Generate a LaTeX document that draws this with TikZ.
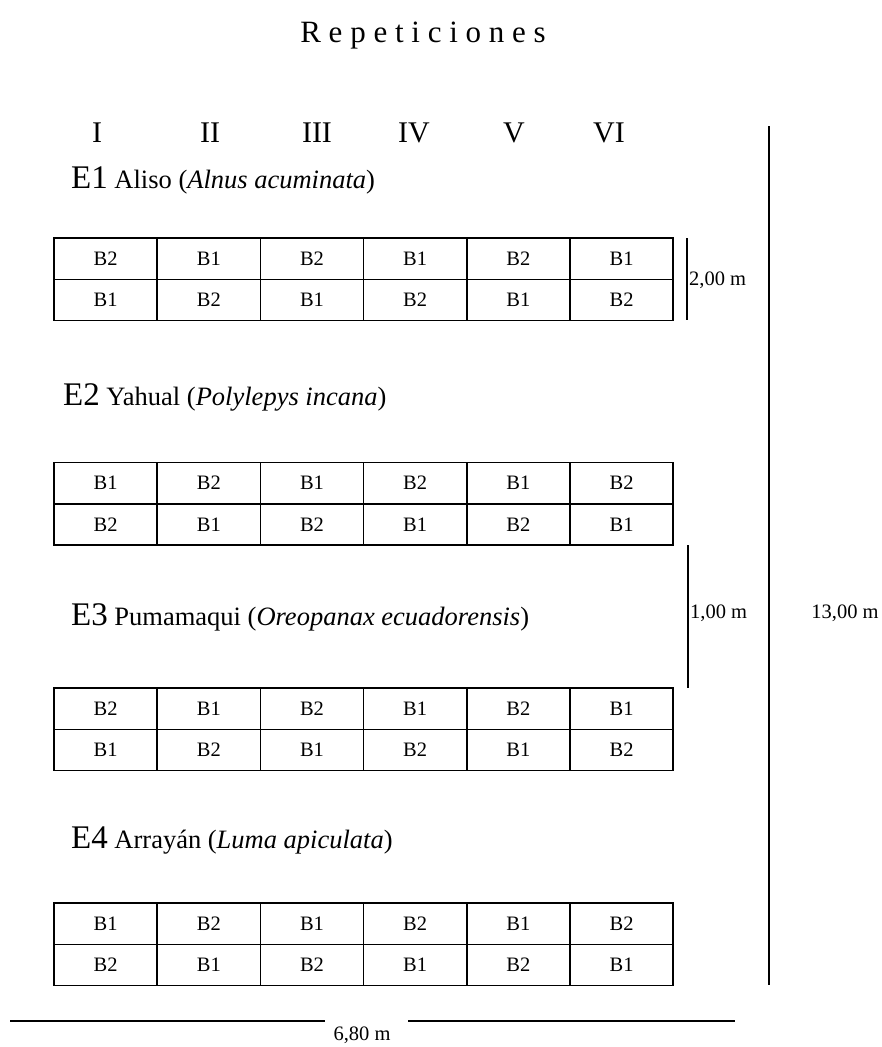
\documentclass[tikz,border=0pt]{standalone}
\usepackage{fontspec}
\setmainfont{Liberation Serif}
\begin{document}
\begin{tikzpicture}[x=1pt,y=-1pt,
  cell/.style={draw,line width=1.6pt,minimum width=103.2pt,minimum height=41.3pt,inner sep=0pt,font=\fontsize{20.5}{24}\selectfont},
  dimline/.style={line width=1.8pt},
  lbl/.style={inner sep=0pt,font=\fontsize{20.5}{24}\selectfont},
  head/.style={inner sep=0pt,font=\fontsize{30}{34}\selectfont},
  species/.style={inner sep=0pt,anchor=west,font=\fontsize{26.5}{30}\selectfont}]
\useasboundingbox (0,0) rectangle (882,1047);
\node[head,font=\fontsize{31}{35}\selectfont] (title) at (423,36) {R e p e t i c i o n e s};
\node[head] (r1) at (97,133) {I};
\node[head] (r2) at (210,133) {II};
\node[head] (r3) at (317,133) {III};
\node[head] (r4) at (414,133) {IV};
\node[head] (r5) at (514,133) {V};
\node[head] (r6) at (609,133) {VI};
\node[species] (e1) at (71,180) {{\fontsize{33}{36}\selectfont E1} Aliso (\textit{Alnus acuminata})};
\node[species] (e2) at (63,397) {{\fontsize{33}{36}\selectfont E2} Yahual (\textit{Polylepys incana})};
\node[species] (e3) at (71,617) {{\fontsize{33}{36}\selectfont E3} Pumamaqui (\textit{Oreopanax ecuadorensis})};
\node[species] (e4) at (71,840) {{\fontsize{33}{36}\selectfont E4} Arrayán (\textit{Luma apiculata})};
% grids
\foreach \g/\top/\pat in {1/238/0,2/462.5/1,3/688/0,4/903/1}{
  \foreach \c in {0,...,5}{
    \pgfmathtruncatemacro{\a}{mod(\c+\pat,2)==0 ? 2 : 1}
    \pgfmathtruncatemacro{\b}{3-\a}
    \node[cell] (g\g-\c-a) at ({54+103.2*\c+51.6},{\top+20.65}) {B\a};
    \node[cell] (g\g-\c-b) at ({54+103.2*\c+51.6},{\top+61.95}) {B\b};
  }
}
% dimensions
\coordinate (d2t) at (687,238);
\coordinate (d2b) at (687,320);
\draw[dimline] (d2t) -- (d2b);
\node[lbl,anchor=west] (l2) at (689,280) {2,00 m};
\coordinate (d1t) at (688,545);
\coordinate (d1b) at (688,688);
\draw[dimline] (d1t) -- (d1b);
\node[lbl,anchor=west] (l1) at (690,613) {1,00 m};
\coordinate (d13t) at (769,126);
\coordinate (d13b) at (769,985);
\draw[dimline] (d13t) -- (d13b);
\node[lbl] (l13) at (845,613) {13,00 m};
\node[lbl] (l68) at (362,1035) {6,80 m};
\coordinate (d6l) at (10,1021);
\coordinate (d6a) at (325,1021);
\coordinate (d6b) at (408,1021);
\coordinate (d6r) at (735,1021);
\draw[dimline] (d6l) -- (d6a);
\draw[dimline] (d6b) -- (d6r);
\end{tikzpicture}
\end{document}
